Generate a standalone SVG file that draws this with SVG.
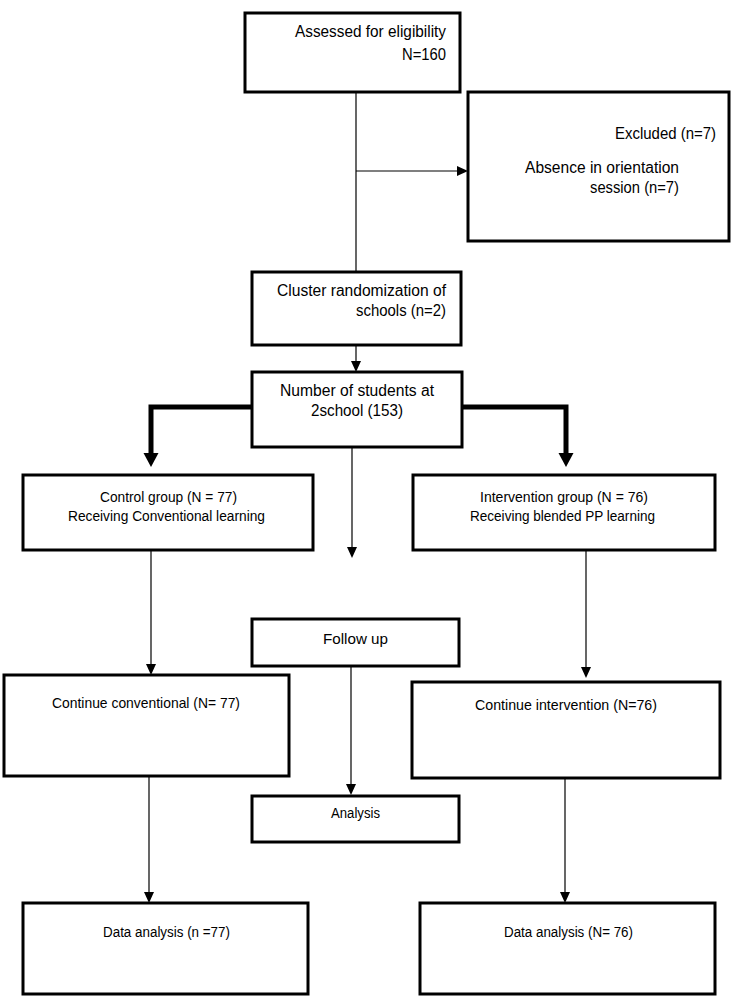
<svg xmlns="http://www.w3.org/2000/svg" width="744" height="1005" viewBox="0 0 744 1005">
<style>
.box{fill:#fff;stroke:#000;stroke-width:3}
.ln{fill:none;stroke:#000;stroke-width:1.2}
.thick{fill:none;stroke:#000;stroke-width:5}
text{font-family:"Liberation Sans",Arial,sans-serif;fill:#000}
.lg{font-size:16px}
.sm{font-size:14px}
.md{font-size:15px}
</style>
<defs>
<marker id="ah" markerUnits="userSpaceOnUse" markerWidth="12" markerHeight="10" refX="0" refY="5" orient="auto">
<path d="M0,0 L11,5 L0,10 z" fill="#000"/>
</marker>
<marker id="ahT" markerUnits="userSpaceOnUse" markerWidth="16" markerHeight="16" refX="0" refY="7.5" orient="auto">
<path d="M0,0 L14,7.5 L0,15 z" fill="#000"/>
</marker>
</defs>
<rect width="744" height="1005" fill="#fff"/>
<g id="connectors">
<line class="ln" x1="356" y1="92" x2="356" y2="272"/>
<line class="ln" x1="356" y1="171" x2="457" y2="171" marker-end="url(#ah)"/>
<line class="ln" x1="356" y1="345" x2="356" y2="361" marker-end="url(#ah)"/>
<path class="thick" d="M252 407 H151 V453" marker-end="url(#ahT)"/>
<path class="thick" d="M461 407 H566 V453" marker-end="url(#ahT)"/>
<line class="ln" x1="352" y1="447" x2="352" y2="547" marker-end="url(#ah)"/>
<line class="ln" x1="151" y1="550" x2="151" y2="664" marker-end="url(#ah)"/>
<line class="ln" x1="586" y1="550" x2="586" y2="667" marker-end="url(#ah)"/>
<line class="ln" x1="351" y1="666" x2="351" y2="784" marker-end="url(#ah)"/>
<line class="ln" x1="149" y1="776" x2="149" y2="892" marker-end="url(#ah)"/>
<line class="ln" x1="565" y1="778" x2="565" y2="892" marker-end="url(#ah)"/>
</g>
<g id="assessed">
<rect class="box" x="245" y="13" width="215" height="79"/>
<text class="lg" x="295" y="37" textLength="151" lengthAdjust="spacingAndGlyphs">Assessed for eligibility</text>
<text class="lg" x="402" y="60" textLength="44" lengthAdjust="spacingAndGlyphs">N=160</text>
</g>
<g id="excluded">
<rect class="box" x="468" y="92" width="261" height="149"/>
<text class="lg" x="615" y="139" textLength="101" lengthAdjust="spacingAndGlyphs">Excluded (n=7)</text>
<text class="lg" x="525" y="173" textLength="154" lengthAdjust="spacingAndGlyphs">Absence in orientation</text>
<text class="lg" x="590" y="193" textLength="89" lengthAdjust="spacingAndGlyphs">session (n=7)</text>
</g>
<g id="cluster">
<rect class="box" x="252" y="272" width="209" height="73"/>
<text class="lg" x="277" y="296" textLength="169" lengthAdjust="spacingAndGlyphs">Cluster randomization of</text>
<text class="lg" x="356" y="316" textLength="90" lengthAdjust="spacingAndGlyphs">schools (n=2)</text>
</g>
<g id="students">
<rect class="box" x="252" y="372" width="210" height="75"/>
<text class="lg" x="280" y="396" textLength="154" lengthAdjust="spacingAndGlyphs">Number of students at</text>
<text class="lg" x="311" y="416" textLength="92" lengthAdjust="spacingAndGlyphs">2school (153)</text>
</g>
<g id="control">
<rect class="box" x="23" y="475" width="290" height="75"/>
<text class="sm" x="100" y="502" textLength="137" lengthAdjust="spacingAndGlyphs">Control group (N = 77)</text>
<text class="sm" x="68" y="521" textLength="197" lengthAdjust="spacingAndGlyphs">Receiving Conventional learning</text>
</g>
<g id="intervention">
<rect class="box" x="413" y="475" width="302" height="75"/>
<text class="sm" x="480" y="502" textLength="168" lengthAdjust="spacingAndGlyphs">Intervention group (N = 76)</text>
<text class="sm" x="470" y="521" textLength="185" lengthAdjust="spacingAndGlyphs">Receiving blended PP learning</text>
</g>
<g id="followup">
<rect class="box" x="252" y="619" width="207" height="47"/>
<text class="md" x="323" y="644" textLength="65" lengthAdjust="spacingAndGlyphs">Follow up</text>
</g>
<g id="cont-conv">
<rect class="box" x="4" y="675" width="285" height="101"/>
<text class="md" x="52" y="708" textLength="188" lengthAdjust="spacingAndGlyphs">Continue conventional (N= 77)</text>
</g>
<g id="cont-int">
<rect class="box" x="412" y="682" width="308" height="96"/>
<text class="md" x="475" y="710" textLength="182" lengthAdjust="spacingAndGlyphs">Continue intervention (N=76)</text>
</g>
<g id="analysis">
<rect class="box" x="252" y="796" width="207" height="46"/>
<text class="sm" x="331" y="818" textLength="49" lengthAdjust="spacingAndGlyphs">Analysis</text>
</g>
<g id="data-left">
<rect class="box" x="23" y="903" width="285" height="91"/>
<text class="sm" x="103" y="937" textLength="127" lengthAdjust="spacingAndGlyphs">Data analysis (n =77)</text>
</g>
<g id="data-right">
<rect class="box" x="420" y="903" width="295" height="91"/>
<text class="sm" x="504" y="937" textLength="129" lengthAdjust="spacingAndGlyphs">Data analysis (N= 76)</text>
</g>
</svg>
